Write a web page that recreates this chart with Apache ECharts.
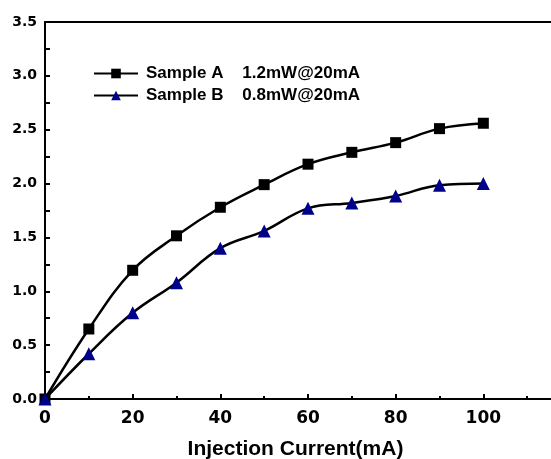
<!DOCTYPE html>
<html><head><meta charset="utf-8">
<script src="https://cdn.jsdelivr.net/npm/echarts@6/dist/echarts.min.js"></script>
<style>html,body{margin:0;padding:0;background:#fff}#c{width:551px;height:459px}</style>
</head><body><div id="c"></div>
<script>
var xValues = [0, 10, 20, 30, 40, 50, 60, 70, 80, 90, 100];
var sampleA = [0, 0.65, 1.195, 1.515, 1.78, 1.99, 2.18, 2.29, 2.38, 2.51, 2.56];
var sampleB = [0, 0.42, 0.80, 1.08, 1.40, 1.56, 1.77, 1.82, 1.885, 1.985, 2.0];
var nameA = 'Sample A    1.2mW@20mA';
var nameB = 'Sample B    0.8mW@20mA';
var xName = 'Injection Current(mA)';

function pairs(xs, ys){ return xs.map(function(x,i){return [x, ys[i]];}); }
var font = 'Liberation Sans, Arial, sans-serif';
var wide = 'DejaVu Sans, sans-serif';
var chart = echarts.init(document.getElementById('c'));
chart.setOption({
  animation: false,
  backgroundColor: '#fff',
  grid: {left: 45, top: 22, height: 377, width: 526, outerBoundsMode: 'none', containLabel: false},
  legend: {
    left: 88, top: 60, orient: 'vertical', itemWidth: 44, itemHeight: 12, itemGap: 5,
    textStyle: {fontFamily: font, fontWeight: 'bold', fontSize: 17, color: '#000', padding: [0, 0, 0, 3]},
    data: [nameA, nameB]
  },
  xAxis: [{
    type: 'value', min: 0, max: 120, interval: 20,
    name: xName, nameLocation: 'middle', nameGap: 40,
    nameTextStyle: {fontFamily: font, fontWeight: 'bold', fontSize: 21, color: '#000', padding: [0, 25, 0, 0]},
    axisLine: {show: true, onZero: false, lineStyle: {color: '#000', width: 2}},
    axisTick: {show: true, inside: true, length: 5, lineStyle: {color: '#000', width: 2}},
    minorTick: {show: true, splitNumber: 2, length: 3, lineStyle: {color: '#000', width: 2}},
    axisLabel: {fontFamily: wide, fontWeight: 'bold', fontSize: 17, color: '#000', margin: 11,
      formatter: function(v){ return v > 100 ? '' : v; }},
    splitLine: {show: false}
  }, {
    type: 'value', position: 'top', min: 0, max: 120, interval: 20,
    axisLine: {show: true, onZero: false, lineStyle: {color: '#000', width: 2}},
    axisTick: {show: false},
    axisLabel: {show: false}, splitLine: {show: false}
  }],
  yAxis: {
    type: 'value', min: 0, max: 3.5, interval: 0.5,
    axisLine: {show: true, onZero: false, lineStyle: {color: '#000', width: 2}},
    axisTick: {show: true, inside: true, length: 5, lineStyle: {color: '#000', width: 2}},
    minorTick: {show: true, splitNumber: 2, length: 5, lineStyle: {color: '#000', width: 2}},
    axisLabel: {fontFamily: wide, fontWeight: 'bold', fontSize: 14, color: '#000', margin: 8,
      formatter: function(v){ return v.toFixed(1); }},
    splitLine: {show: false}
  },
  series: [{
    name: nameA, type: 'line', smooth: 0.4, data: pairs(xValues, sampleA),
    symbol: 'rect', symbolSize: 11,
    itemStyle: {color: '#000'},
    lineStyle: {color: '#000', width: 2.5}
  }, {
    name: nameB, type: 'line', smooth: 0.4, data: pairs(xValues, sampleB),
    symbol: 'triangle', symbolSize: 13,
    itemStyle: {color: '#00008b'},
    lineStyle: {color: '#000', width: 2.5}
  }]
});
</script></body></html>
